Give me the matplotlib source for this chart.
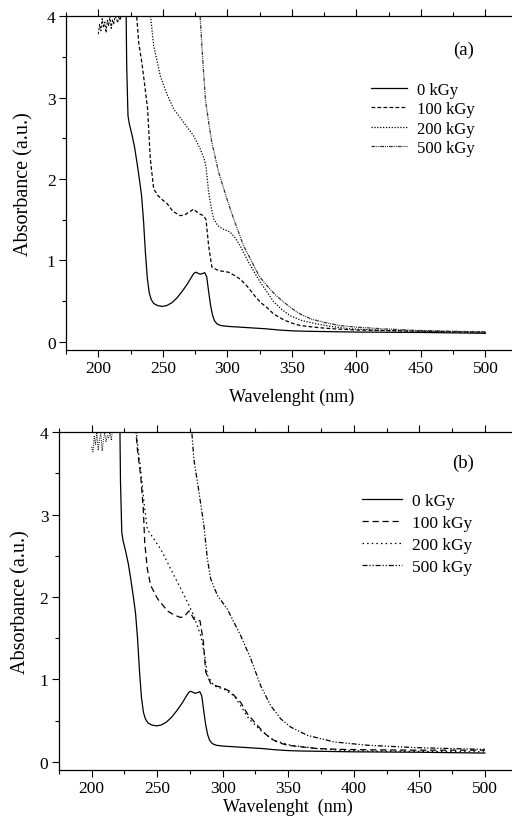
import matplotlib
matplotlib.use("Agg")
import matplotlib.pyplot as plt
from matplotlib.ticker import MultipleLocator

plt.rcParams['font.family'] = ['Liberation Serif', 'DejaVu Serif']

# ---- data (wavelength in nm, absorbance in a.u.) ----
labels = ["0 kGy", "100 kGy", "200 kGy", "500 kGy"]

# unirradiated sample, same in both panels
wl_0 = [221.4, 222, 223, 224, 226, 228, 230, 232, 233.5, 235, 236.5, 238, 239.5, 241,
        243, 246, 249.5, 253, 257, 261, 265, 269, 272, 274, 275.5, 277, 279, 281,
        282.5, 284, 285.5, 287, 288.5, 290, 292, 295, 300, 310, 320, 330, 340, 350,
        360, 380, 400, 450, 500]
abs_0 = [4.3, 3.4, 2.78, 2.68, 2.55, 2.4, 2.2, 1.98, 1.8, 1.5, 1.1, 0.78, 0.6, 0.52,
         0.47, 0.445, 0.435, 0.445, 0.48, 0.54, 0.62, 0.71, 0.79, 0.84, 0.855, 0.845,
         0.83, 0.84, 0.85, 0.8, 0.62, 0.45, 0.33, 0.26, 0.22, 0.2, 0.19, 0.18, 0.17,
         0.16, 0.145, 0.135, 0.13, 0.125, 0.12, 0.115, 0.105]

# noisy saturated region at the start of the scan
wl_noise = [200, 201, 202, 203, 204, 205, 206, 207, 208, 209, 210, 211, 212, 213,
            214, 215, 216, 217, 218, 220]
abs_noise_a = [3.78, 3.9, 3.82, 3.97, 3.86, 3.93, 3.8, 3.95, 3.88, 4.0, 3.85, 3.96,
               3.9, 4.0, 3.97, 3.92, 4.0, 3.95, 4.05, 4.3]
abs_noise_b = [3.82, 3.76, 3.95, 3.85, 4.0, 3.78, 3.92, 3.98, 3.77, 3.9, 4.0, 3.88,
               3.96, 3.93, 4.0, 3.9, 4.05, 4.0, 4.1, 4.3]

# panel (a)
wl_a100 = [228.3, 230, 231.3, 234, 236, 238.2, 240.3, 242.9, 246, 250, 253.2, 258,
           263.6, 267, 270, 273.9, 276, 278.5, 281.6, 283.5, 285.5, 288, 290, 293.3,
           301, 305, 310, 315, 318, 322, 326, 330.8, 336, 343.7, 350, 356.6, 370,
           382, 400, 434, 470, 500]
abs_a100 = [4.3, 3.95, 3.68, 3.4, 3.15, 2.86, 2.25, 1.88, 1.8, 1.74, 1.7, 1.6, 1.55,
            1.56, 1.59, 1.63, 1.6, 1.57, 1.55, 1.5, 1.18, 0.92, 0.9, 0.875, 0.855,
            0.82, 0.77, 0.69, 0.63, 0.55, 0.48, 0.42, 0.34, 0.27, 0.23, 0.2, 0.175,
            0.16, 0.145, 0.135, 0.125, 0.12]
wl_a200 = [238.5, 242.9, 248, 253, 258.4, 266, 273.9, 279, 282, 283.5, 285.5, 287.5,
           289.4, 292.5, 296, 302, 306, 310, 316.4, 320, 325.6, 330, 336, 342,
           348.8, 358, 369.5, 380, 395, 415, 434, 470, 500]
abs_a200 = [4.3, 3.64, 3.27, 3.05, 2.86, 2.7, 2.53, 2.37, 2.25, 2.15, 1.84, 1.65,
            1.51, 1.43, 1.39, 1.35, 1.28, 1.18, 0.98, 0.88, 0.73, 0.63, 0.49, 0.4,
            0.32, 0.26, 0.22, 0.19, 0.16, 0.145, 0.135, 0.125, 0.115]
wl_a500 = [277.8, 280.4, 283, 285.5, 288, 293.3, 299.8, 304.9, 312.6, 320.4, 325,
           330.7, 337, 343.6, 350, 356.6, 365, 374.6, 387, 400.5, 420, 447, 475, 500]
abs_a500 = [4.3, 3.6, 2.98, 2.7, 2.45, 2.08, 1.75, 1.51, 1.18, 0.94, 0.8, 0.69, 0.58,
            0.49, 0.41, 0.34, 0.28, 0.24, 0.2, 0.18, 0.16, 0.14, 0.13, 0.12]

# panel (b)
wl_b100 = [232.3, 234.9, 237.4, 239.4, 240.5, 242.5, 245, 250.2, 257.8, 263, 268,
           271, 274.3, 276, 278, 282.7, 285.3, 287, 290.8, 295, 299.8, 306, 313.7,
           318.9, 326.5, 331, 336.6, 343, 349.4, 360, 372.3, 390, 410.5, 450, 500]
abs_b100 = [4.3, 3.79, 3.47, 3.07, 2.66, 2.34, 2.14, 1.98, 1.83, 1.78, 1.75, 1.77,
            1.83, 1.79, 1.73, 1.71, 1.45, 1.09, 0.95, 0.92, 0.9, 0.85, 0.72, 0.58,
            0.44, 0.36, 0.28, 0.23, 0.2, 0.18, 0.16, 0.15, 0.145, 0.14, 0.14]
wl_b200 = [232.5, 234.9, 237.4, 239.9, 242.5, 247.6, 252.7, 257.8, 262.8, 268, 273,
           278, 283.2, 286.3, 288.3, 293.4, 301, 308.6, 313.7, 320, 329, 339, 351.9,
           372, 390, 410, 450, 500]
abs_b200 = [4.3, 3.87, 3.55, 3.15, 2.82, 2.7, 2.58, 2.42, 2.26, 2.1, 1.94, 1.77,
            1.53, 1.29, 1.05, 0.92, 0.88, 0.8, 0.68, 0.52, 0.38, 0.26, 0.2, 0.16,
            0.14, 0.13, 0.125, 0.12]
wl_b500 = [275, 278, 281.9, 285.7, 288.3, 290.8, 295.9, 303.6, 308.6, 313.7, 321.4,
           329, 336.6, 344.3, 351.9, 364.6, 385, 410.5, 449, 500]
abs_b500 = [4.3, 3.67, 3.27, 2.86, 2.46, 2.22, 2.02, 1.85, 1.69, 1.53, 1.25, 0.92,
            0.68, 0.52, 0.42, 0.32, 0.24, 0.2, 0.17, 0.15]


def style_axes(ax, tag, tag_y, ylabelpad):
    ax.set_xlim(175, 525)
    ax.set_ylim(-0.1, 4)
    ax.xaxis.set_major_locator(MultipleLocator(50))
    ax.xaxis.set_minor_locator(MultipleLocator(25))
    ax.yaxis.set_major_locator(MultipleLocator(1))
    ax.yaxis.set_minor_locator(MultipleLocator(0.5))
    ax.tick_params(which='both', direction='out', labelsize=12.5, width=0.8,
                   top=True, right=False, pad=2.5)
    ax.tick_params(which='major', length=5)
    ax.tick_params(which='minor', length=3)
    ax.spines['right'].set_visible(False)
    for s in ['left', 'bottom', 'top']:
        ax.spines[s].set_linewidth(0.9)
    ax.set_ylabel("Absorbance (a.u.)", fontsize=14.5, labelpad=ylabelpad)
    ax.text(0.88, tag_y, tag, transform=ax.transAxes, fontsize=13.5,
            ha='center', va='center')


fig = plt.figure(figsize=(5.12, 8.2), dpi=100)

# ---- panel (a) ----
ax1 = fig.add_axes([0.129, 0.572, 0.882, 0.407])
ax1.plot(wl_0, abs_0, color='black', lw=0.9, label=labels[0])
ax1.plot(wl_noise, abs_noise_a, color='black', lw=0.7, dashes=(2.5, 1.5))
ax1.plot(wl_a100, abs_a100, color='black', lw=0.9, dashes=(3, 1.8), label=labels[1])
ax1.plot(wl_a200, abs_a200, color='black', lw=0.9, dashes=(1, 1.3), label=labels[2])
ax1.plot(wl_a500, abs_a500, color='#333333', lw=0.9,
         dashes=(3, 0.8, 0.8, 0.8, 0.8, 0.8), label=labels[3])
style_axes(ax1, "(a)", 0.9, 10)
ax1.set_xlabel("Wavelenght (nm)", fontsize=13, labelpad=8)
ax1.legend(loc='upper left', bbox_to_anchor=(0.66, 0.823), frameon=False,
           fontsize=12, handlelength=2.2, handletextpad=0.6, labelspacing=0.2,
           borderaxespad=0)

# ---- panel (b) ----
ax2 = fig.add_axes([0.115, 0.0598, 0.896, 0.412])
ax2.plot(wl_0, abs_0, color='black', lw=0.9, label=labels[0])
ax2.plot(wl_noise, abs_noise_b, color='black', lw=0.7, dashes=(1, 1.3))
ax2.plot(wl_b100, abs_b100, color='black', lw=0.9, dashes=(5, 3), label=labels[1])
ax2.plot(wl_b200, abs_b200, color='black', lw=0.9, dashes=(1.2, 2.5), label=labels[2])
ax2.plot(wl_b500, abs_b500, color='black', lw=0.9,
         dashes=(4, 1.5, 1, 1.5, 1, 1.5), label=labels[3])
style_axes(ax2, "(b)", 0.91, 7)
ax2.set_xlabel("Wavelenght  (nm)", fontsize=13, labelpad=1)
ax2.legend(loc='upper left', bbox_to_anchor=(0.645, 0.84), frameon=False,
           fontsize=12.5, handlelength=2.3, handletextpad=0.6, labelspacing=0.33,
           borderaxespad=0)

fig.savefig("out.png", dpi=100)
